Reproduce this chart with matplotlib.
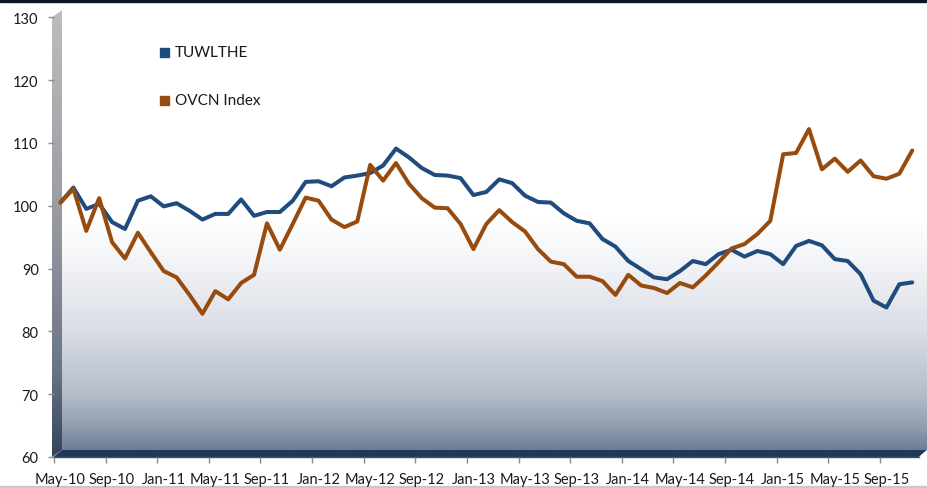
import matplotlib.pyplot as plt
import numpy as np
from matplotlib.colors import LinearSegmentedColormap
from matplotlib.patches import Polygon, Rectangle

W, H = 928, 489

# monthly index values, May-10 .. Nov-15
tick_labels = ['May-10', 'Sep-10', 'Jan-11', 'May-11', 'Sep-11', 'Jan-12',
               'May-12', 'Sep-12', 'Jan-13', 'May-13', 'Sep-13', 'Jan-14',
               'May-14', 'Sep-14', 'Jan-15', 'May-15', 'Sep-15']

tuwlthe = [100.5, 102.9, 99.5, 100.3, 97.4, 96.3, 100.8, 101.5, 99.9, 100.4, 99.2, 97.8,
           98.7, 98.7, 101.0, 98.4, 99.0, 99.0, 100.8, 103.8, 103.9, 103.1, 104.5, 104.8,
           105.2, 106.4, 109.1, 107.7, 106.0, 104.9, 104.8, 104.4, 101.7, 102.2, 104.2, 103.6,
           101.6, 100.6, 100.5, 98.8, 97.6, 97.2, 94.7, 93.5, 91.2, 89.9, 88.6, 88.3,
           89.6, 91.2, 90.7, 92.3, 93.0, 91.9, 92.8, 92.3, 90.7, 93.6, 94.4, 93.7,
           91.5, 91.2, 89.1, 84.9, 83.8, 87.5, 87.8]

ovcn = [100.5, 102.7, 96.0, 101.2, 94.2, 91.6, 95.7, 92.6, 89.6, 88.6, 85.8, 82.8,
        86.4, 85.1, 87.7, 89.0, 97.2, 93.0, 97.1, 101.3, 100.8, 97.8, 96.6, 97.5,
        106.5, 104.0, 106.8, 103.5, 101.2, 99.7, 99.6, 97.1, 93.1, 97.1, 99.3, 97.4,
        95.9, 93.1, 91.1, 90.7, 88.7, 88.7, 88.0, 85.8, 89.0, 87.3, 86.9, 86.1,
        87.7, 87.0, 88.9, 91.0, 93.2, 93.9, 95.5, 97.6, 108.2, 108.4, 112.2, 105.8,
        107.5, 105.4, 107.2, 104.7, 104.3, 105.1, 108.8]

series_names = ['TUWLTHE', 'OVCN Index']
series_colors = ['#1f4b7d', '#974b0e']

plt.rcParams['font.family'] = ['Lato', 'DejaVu Sans']

fig = plt.figure(figsize=(W / 100, H / 100), dpi=100)
fig.patch.set_facecolor('white')

# background layer in pixel coords (y down)
bg = fig.add_axes([0, 0, 1, 1], zorder=0)
bg.set_xlim(0, W)
bg.set_ylim(H, 0)
bg.axis('off')

# front plot box and depth shift of the back wall
x0, x1 = 54, 918.7
y_top, y_bot = 18.3, 458
dx, dy = 8, -7


def vgrad(stops, n=256):
    cmap = LinearSegmentedColormap.from_list('g', stops)
    return cmap(np.linspace(0, 1, n))[:, None, :]


# back wall: white fading into slate blue
wall = vgrad([(0.0, '#ffffff'), (0.475, '#ffffff'), (0.566, '#f4f5f8'),
              (0.733, '#d9dde4'), (0.874, '#b4bdc9'), (0.954, '#8f9bad'),
              (1.0, '#6d7e96')])
bg.imshow(wall, extent=(x0 + dx, x1 + dx, y_bot + dy, y_top + dy - 0.3),
          origin='upper', aspect='auto', interpolation='bilinear')

# left side wall
side = Polygon([(52, y_top), (x0 + dx, y_top + dy), (x0 + dx, y_bot + dy), (52, y_bot)],
               closed=True, facecolor='none', edgecolor='none')
bg.add_patch(side)
side_img = bg.imshow(vgrad([(0, '#bdbdbd'), (0.45, '#9a9ca2'), (0.8, '#6b7586'),
                            (1, '#34445a')]),
                     extent=(52, x0 + dx, y_bot, y_top + dy), origin='upper',
                     aspect='auto', interpolation='bilinear')
side_img.set_clip_path(side)

# floor
bg.add_patch(Polygon([(x0 - 1, y_bot), (x0 + dx, y_bot + dy), (x1 + dx, y_bot + dy), (x1, y_bot)],
                     closed=True, facecolor='#213956', edgecolor='none'))
bg.plot([x0, x1], [y_bot - 0.5, y_bot - 0.5], color='#3b536f', lw=1)

# frame bits
bg.add_patch(Rectangle((0, 0), 926, 3, color='#0b1622'))
bg.add_patch(Rectangle((0, 486.5), W, 2.5, color='#c9c9c9'))
bg.set_xlim(0, W)
bg.set_ylim(H, 0)

# data axes
ax = fig.add_axes([x0 / W, 1 - y_bot / H, (x1 - x0) / W, (y_bot - y_top) / H], zorder=2)
ax.patch.set_alpha(0)
x = np.arange(len(tuwlthe))
for vals, col in zip([tuwlthe, ovcn], series_colors):
    ax.plot(x, vals, color=col, lw=2.9, solid_joinstyle='round',
            solid_capstyle='round', clip_on=False)

ax.set_xlim(-0.5, len(x) - 0.5)
ax.set_ylim(60, 130)
for s in ax.spines.values():
    s.set_visible(False)

ax.set_yticks(range(60, 131, 10))
ax.tick_params(axis='y', length=4, width=1, color='#8c8c8c', pad=7,
               labelsize=10.5, labelcolor='#1a1a1a')
ax.set_xticks(np.arange(0, len(x), 4))
ax.set_xticklabels(tick_labels)
ax.set_xticks(np.arange(-0.5, len(x), 4), minor=True)
ax.tick_params(axis='x', which='major', length=0, pad=11,
               labelsize=10.5, labelcolor='#1a1a1a')
ax.tick_params(axis='x', which='minor', length=4, width=1, color='#8c8c8c')

# legend with square keys
for k, (name, col) in enumerate(zip(series_names, series_colors)):
    yc = 53 + 48 * k
    bg.add_patch(Rectangle((160.5, yc - 4.5), 9, 9, color=col))
    bg.text(175, yc, name, fontsize=11, va='center', ha='left', color='#1a1a1a')

fig.savefig('out.png', dpi=100)
